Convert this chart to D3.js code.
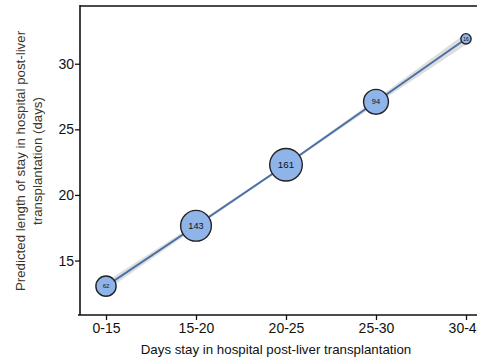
<!DOCTYPE html>
<html>
<head>
<meta charset="utf-8">
<script src="https://cdn.jsdelivr.net/npm/d3@7"></script>
<style>
  html, body { margin: 0; padding: 0; background: #fff; }
  svg { display: block; font-family: "Liberation Sans", Arial, sans-serif; }
</style>
</head>
<body>
<svg id="chart" width="477" height="360"></svg>
<script>
// Length-of-stay categories and model predictions
const categories = ["0-15", "15-20", "20-25", "25-30", "30-40"];
const predicted  = [13.05, 17.65, 22.3, 27.1, 31.9];
const ciLower    = [12.7, 17.5, 22.2, 26.9, 31.45];
const ciUpper    = [13.4, 17.8, 22.4, 27.3, 32.35];
const counts     = [62, 143, 161, 94, 16];
const yTicks     = [15, 20, 25, 30];

const W = 477, H = 360;
const plotLeft = 80, plotTop = 6, plotBottom = 315;

const svg = d3.select("#chart");

const x = d3.scalePoint().domain(categories).range([plotLeft + 26, plotLeft + 386]);
const y = d3.scaleLinear().domain([10.85, 34.4]).range([plotBottom, plotTop]);
const r = d3.scaleSqrt().domain([0, d3.max(counts)]).range([0, 16.3]);

const rows = categories.map((c, i) => ({
  cat: c, pred: predicted[i], lo: ciLower[i], hi: ciUpper[i], n: counts[i]
}));

// confidence band
svg.append("path")
  .datum(rows)
  .attr("fill", "#dedede")
  .attr("d", d3.area().x(d => x(d.cat)).y0(d => y(d.lo)).y1(d => y(d.hi)));

// prediction line
svg.append("path")
  .datum(rows)
  .attr("fill", "none")
  .attr("stroke", "#4a70a6")
  .attr("stroke-width", 2)
  .attr("d", d3.line().x(d => x(d.cat)).y(d => y(d.pred)));

// sized points with counts
const pts = svg.append("g").selectAll("g").data(rows).join("g")
  .attr("transform", d => `translate(${x(d.cat)},${y(d.pred)})`);
pts.append("circle")
  .attr("r", d => r(d.n))
  .attr("fill", "#8fb4ea")
  .attr("stroke", "#222")
  .attr("stroke-width", 1.4);
pts.append("text")
  .attr("text-anchor", "middle")
  .attr("dy", "0.36em")
  .attr("font-size", d => Math.max(5, r(d.n) * 0.6))
  .attr("fill", "#111")
  .text(d => d.n);

// axes
const yAxis = svg.append("g")
  .attr("transform", `translate(${plotLeft},0)`)
  .call(d3.axisLeft(y).tickValues(yTicks).tickSize(5).tickSizeOuter(0));
yAxis.select(".domain").attr("d", `M0,${plotBottom}V${plotTop - 1}`);

const xAxis = svg.append("g")
  .attr("transform", `translate(0,${plotBottom})`)
  .call(d3.axisBottom(x).tickSize(5).tickSizeOuter(0));
xAxis.select(".domain").attr("d", `M${plotLeft - 2},0H${W + 5}`);

svg.selectAll(".domain").attr("stroke", "#111").attr("stroke-width", 1.6);
svg.selectAll(".tick line").attr("stroke", "#111").attr("stroke-width", 1.3);
svg.selectAll(".tick text").attr("font-size", 14).attr("fill", "#111")
  .attr("font-family", "'Liberation Sans', Arial, sans-serif");
yAxis.selectAll(".tick text").attr("x", -6);

// top frame line
svg.append("line")
  .attr("x1", plotLeft).attr("x2", W + 5)
  .attr("y1", plotTop).attr("y2", plotTop)
  .attr("stroke", "#111").attr("stroke-width", 1.6);

// axis titles
svg.append("text")
  .attr("x", (x.range()[0] + x.range()[1]) / 2 - 10)
  .attr("y", 354)
  .attr("text-anchor", "middle")
  .attr("font-size", 13.3)
  .attr("fill", "#111")
  .text("Days stay in hospital post-liver transplantation");

const yt = svg.append("text")
  .attr("transform", "translate(0,161) rotate(-90)")
  .attr("text-anchor", "middle")
  .attr("font-size", 13.3)
  .attr("fill", "#3a3528");
yt.append("tspan").attr("x", 0).attr("y", 25).text("Predicted length of stay in hospital post-liver");
yt.append("tspan").attr("x", 0).attr("y", 42).text("transplantation (days)");
</script>
</body>
</html>
